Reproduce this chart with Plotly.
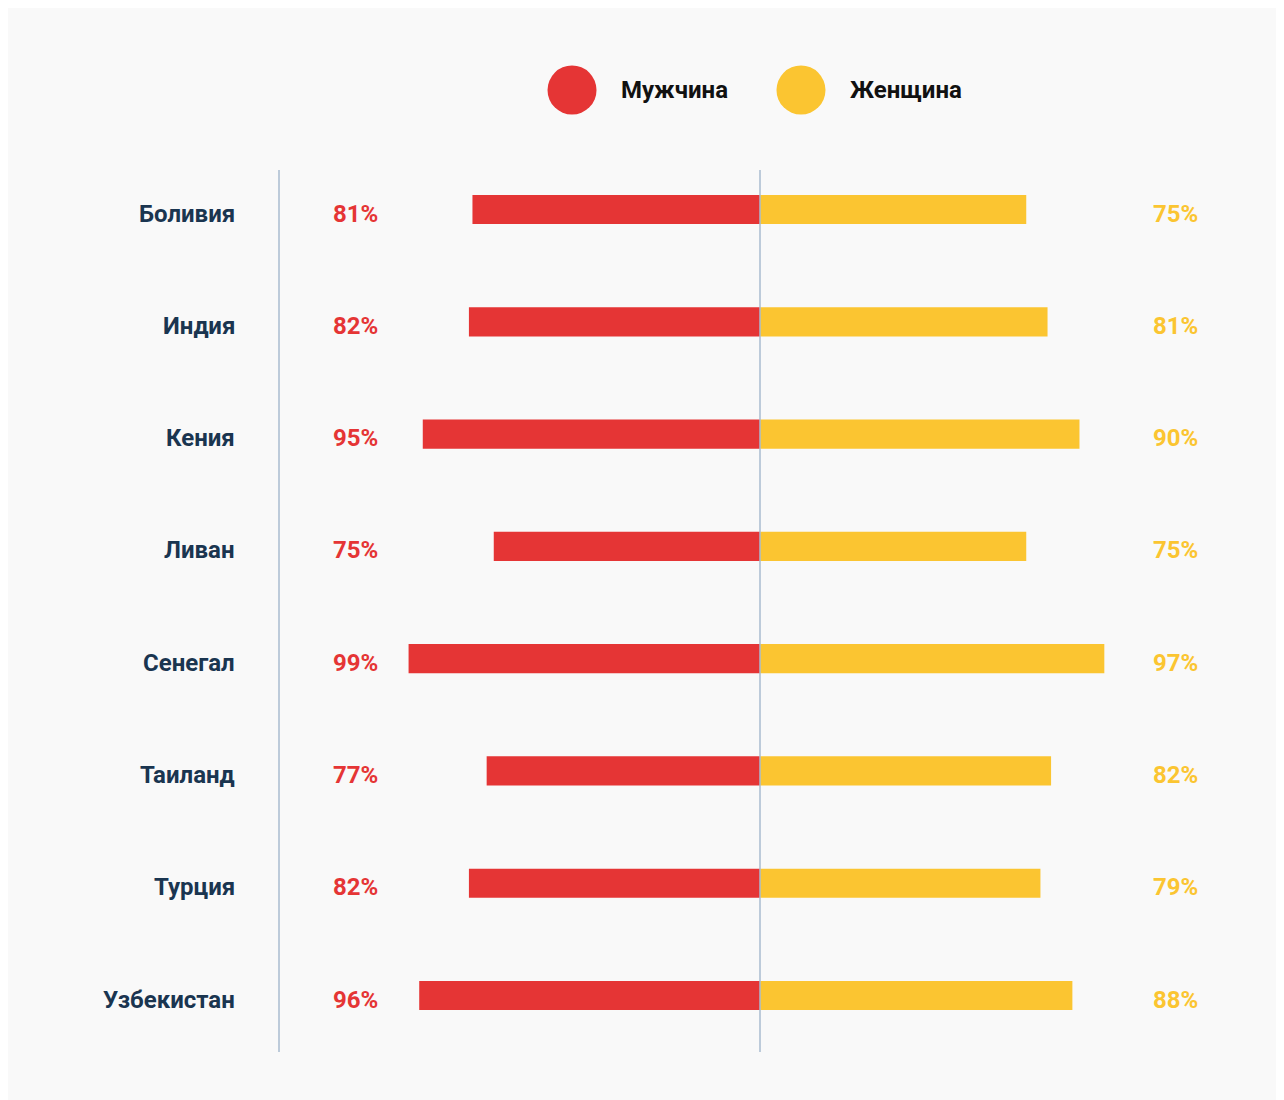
import plotly.graph_objects as go

countries = ["Боливия", "Индия", "Кения", "Ливан", "Сенегал", "Таиланд", "Турция", "Узбекистан"]
male = [81, 82, 95, 75, 99, 77, 82, 96]
female = [75, 81, 90, 75, 97, 82, 79, 88]
series_names = ["Мужчина", "Женщина"]

RED = "#e53535"
YELLOW = "#fbc531"
NAVY = "#1a3550"
LINE = "#a8bbcf"
BG = "#f9f9f9"
FONT = "Roboto"
FS = 24

idx = list(range(len(countries)))

fig = go.Figure()
fig.add_trace(go.Bar(y=idx, x=[-v for v in male], base=0, orientation="h",
                     marker=dict(color=RED, line=dict(width=0)), width=0.26,
                     name=series_names[0], showlegend=False,
                     hovertemplate="%{customdata}%<extra></extra>", customdata=male))
fig.add_trace(go.Bar(y=idx, x=female, orientation="h",
                     marker=dict(color=YELLOW, line=dict(width=0)), width=0.26,
                     name=series_names[1], showlegend=False,
                     hovertemplate="%{x}%<extra></extra>"))

# percentage labels and country labels
for i in idx:
    fig.add_annotation(x=-114, y=i, xref="x", yref="y", text=f"<b>{male[i]}%</b>",
                       showarrow=False, xanchor="center", yanchor="middle", yshift=-4,
                       font=dict(family=FONT, size=FS, color=RED))
    fig.add_annotation(x=117, y=i, xref="x", yref="y", text=f"<b>{female[i]}%</b>",
                       showarrow=False, xanchor="center", yanchor="middle", yshift=-4,
                       font=dict(family=FONT, size=FS, color=YELLOW))
    fig.add_annotation(x=0, y=i, xref="paper", yref="y", text=f"<b>{countries[i]}</b>",
                       showarrow=False, xanchor="right", yanchor="middle", xshift=-42, yshift=-4,
                       font=dict(family=FONT, size=FS, color=NAVY))

# vertical lines
fig.add_shape(type="line", xref="x", yref="paper", x0=0, x1=0, y0=0, y1=1,
              line=dict(color=LINE, width=1.5), layer="above")
fig.add_shape(type="line", xref="paper", yref="paper", x0=0, x1=0, y0=0, y1=1,
              line=dict(color=LINE, width=1.5))

# custom legend
leg = [(0.3046, RED, 0.3535, series_names[0]), (0.5426, YELLOW, 0.5915, series_names[1])]
for cx, col, tx, name in leg:
    fig.add_shape(type="circle", xref="paper", yref="paper", xsizemode="pixel", ysizemode="pixel",
                  xanchor=cx, yanchor=1.0907, x0=-24.5, x1=24.5, y0=-24.5, y1=24.5,
                  fillcolor=col, line=dict(width=0))
    fig.add_annotation(xref="paper", yref="paper", x=tx, y=1.0907, xanchor="left", yanchor="middle",
                       text=f"<b>{name}</b>", showarrow=False,
                       font=dict(family=FONT, size=FS, color="#111111"))

fig.update_layout(
    width=1272, height=1092,
    margin=dict(l=271, r=39, t=162, b=48),
    paper_bgcolor=BG, plot_bgcolor=BG,
    barmode="overlay",
    font=dict(family=FONT),
    xaxis=dict(range=[-135.5, 135.5], showgrid=False, zeroline=False, showticklabels=False,
               showline=False, fixedrange=True),
    yaxis=dict(range=[7.503, -0.352], showgrid=False, zeroline=False, showline=False,
               showticklabels=False, fixedrange=True),
)

fig.write_html("out.html")
